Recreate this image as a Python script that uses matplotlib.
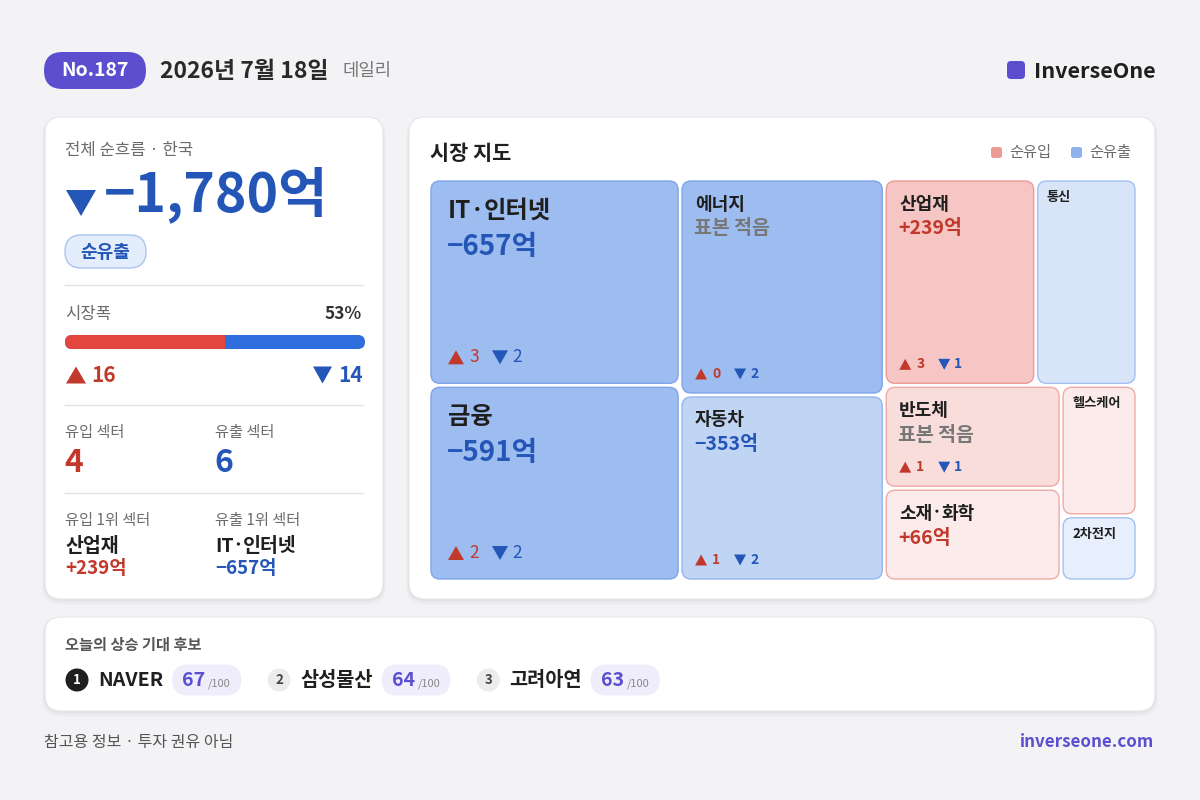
import numpy as np
import matplotlib
matplotlib.use("Agg")
import matplotlib.pyplot as plt
from matplotlib.patches import FancyBboxPatch, Polygon, Circle

plt.rcParams['font.family'] = ['Noto Sans CJK KR', 'DejaVu Sans']

# ------------------------------------------------------------------
# data
# ------------------------------------------------------------------
ISSUE_NO = 187
DATE_TEXT = "2026년 7월 18일"
NET_FLOW = -1780          # 억
UP_COUNT = 16
DOWN_COUNT = 14

SECTORS = ["IT·인터넷", "금융", "에너지", "자동차", "산업재", "통신", "반도체", "소재·화학", "헬스케어", "2차전지"]
SECTOR_FLOW = [-657, -591, -476, -353, 239, -107, 81, 66, 24, -6]
SECTOR_UP = [3, 2, 0, 1, 3, None, 1, None, None, None]
SECTOR_DOWN = [2, 2, 2, 2, 1, None, 1, None, None, None]

PICKS = ["NAVER", "삼성물산", "고려아연"]
PICK_SCORES = [67, 64, 63]

# colours
BG = "#f3f3f6"
PURPLE = "#5b4fcf"
RED = "#c0392b"
BLUE = "#2456b8"
GRAY = "#6b6b6b"
DARK = "#1f1f1f"
BLUE_TIERS = [("#9dbcf0", "#7ea4ea"), ("#c0d4f4", "#95b6ee"), ("#d8e5f9", "#a3c0f1"), ("#e7effc", "#a3c0f1")]
RED_TIERS = [("#f6c6c4", "#ee9a95"), ("#f9dddb", "#f0aaa6"), ("#fbebeb", "#f0aaa6"), ("#fbebeb", "#f0aaa6")]

DY = 2  # CJK glyphs sit a bit high with va="center"


def fmt_eok(v):
    sign = "+" if v > 0 else "−"
    return f"{sign}{abs(v):,}억"


def T(ax, x, y, s, **kw):
    kw.setdefault("va", "center")
    kw.setdefault("ha", "left")
    kw.setdefault("zorder", 3)
    return ax.text(x, y + DY, s, **kw)


def rbox(ax, x0, y0, x1, y1, r, fc, ec="none", lw=1.0, z=1, alpha=1.0):
    p = FancyBboxPatch((x0, y0), x1 - x0, y1 - y0,
                       boxstyle=f"round,pad=0,rounding_size={r}",
                       fc=fc, ec=ec, lw=lw, zorder=z, alpha=alpha)
    ax.add_patch(p)
    return p


def card(ax, x0, y0, x1, y1, r=16):
    for k, a in [(6, 0.015), (4, 0.02), (2, 0.03)]:
        rbox(ax, x0 - k / 2, y0 - k / 4 + 2, x1 + k / 2, y1 + k, r + k / 2, "#000000", z=0.5, alpha=a)
    rbox(ax, x0, y0, x1, y1, r, "white", ec="#e6e6ec", lw=0.8, z=1)


def tri(ax, x, y, w, h, up, color, z=5):
    # x = left edge, y = vertical centre
    if up:
        pts = [(x, y + h / 2), (x + w, y + h / 2), (x + w / 2, y - h / 2)]
    else:
        pts = [(x, y - h / 2), (x + w, y - h / 2), (x + w / 2, y + h / 2)]
    ax.add_patch(Polygon(pts, closed=True, fc=color, ec="none", zorder=z))


def squarify(weights, x, y, w, h):
    """simple squarified treemap, weights sorted descending"""
    total = float(sum(weights))
    areas = [wt * w * h / total for wt in weights]
    rects = []
    i = 0

    def worst(row, short):
        s = sum(row)
        return max(max(short ** 2 * r / s ** 2, s ** 2 / (short ** 2 * r)) for r in row)

    while i < len(areas):
        short = min(w, h)
        row = [areas[i]]
        j = i + 1
        while j < len(areas) and worst(row + [areas[j]], short) <= worst(row, short):
            row.append(areas[j])
            j += 1
        s = sum(row)
        if w >= h:
            cw = s / h
            yy = y
            for a in row:
                rh = a / cw
                rects.append((x, yy, cw, rh))
                yy += rh
            x += cw
            w -= cw
        else:
            rh = s / w
            xx = x
            for a in row:
                cw = a / rh
                rects.append((xx, y, cw, rh))
                xx += cw
            y += rh
            h -= rh
        i = j
    return rects


# ------------------------------------------------------------------
# figure in pixel coordinates
# ------------------------------------------------------------------
fig = plt.figure(figsize=(12, 8), dpi=100)
fig.patch.set_facecolor(BG)
ax = fig.add_axes([0, 0, 1, 1])
ax.set_xlim(0, 1200)
ax.set_ylim(800, 0)
ax.set_facecolor(BG)
ax.axis("off")
renderer = fig.canvas.get_renderer()
inv = ax.transData.inverted()


def text_right(t):
    bb = t.get_window_extent(renderer=renderer)
    return inv.transform((bb.x1, bb.y0))[0]


def name_text(ax, x, y, name, fontsize, color=DARK, **kw):
    # the CJK font gives "·" a full-width cell, so draw the dot as a small mark
    em = fontsize * 100 / 72
    parts = name.split("·")
    cur = x
    for n, part in enumerate(parts):
        if n > 0:
            r = em * 0.085
            cur += em * 0.16
            ax.add_patch(Circle((cur + r, y), r, fc=color, ec="none", zorder=3))
            cur += 2 * r + em * 0.16
        t = T(ax, cur, y, part, fontsize=fontsize, color=color, **kw)
        cur = text_right(t)


# header
rbox(ax, 44, 52, 146, 89, 18.5, PURPLE, z=2)
T(ax, 95, 69, f"No.{ISSUE_NO}", color="white", fontsize=14, fontweight="bold", ha="center")
T(ax, 160, 70, DATE_TEXT, color="#2a2a2a", fontsize=16.5, fontweight="bold")
T(ax, 343, 69, "데일리", color="#777777", fontsize=12.8)
rbox(ax, 1007, 61, 1025, 79, 4, PURPLE, z=2)
T(ax, 1034, 70, "InverseOne", color=DARK, fontsize=15.5, fontweight="bold")

# ------------------------------------------------------------------
# left card: net flow summary
# ------------------------------------------------------------------
card(ax, 45, 117, 383, 599)
T(ax, 65, 149, "전체 순흐름 · 한국", color=GRAY, fontsize=12)
tri(ax, 66, 203, 30, 26, up=NET_FLOW > 0, color=RED if NET_FLOW > 0 else BLUE)
T(ax, 104, 193, fmt_eok(NET_FLOW), color=BLUE if NET_FLOW < 0 else RED, fontsize=38.5, fontweight="bold")
rbox(ax, 65, 235, 146, 268, 16.5, "#e3edfc", ec="#a9c4f0", lw=1.0, z=2)
T(ax, 105.5, 250, "순유출" if NET_FLOW < 0 else "순유입", color=BLUE, fontsize=13, fontweight="bold", ha="center")

for yy in [285, 405, 493]:
    ax.plot([65, 363], [yy, yy], color="#e4e4e8", lw=1.0, zorder=3)

breadth = UP_COUNT / (UP_COUNT + DOWN_COUNT)
T(ax, 65, 312, "시장폭", color=GRAY, fontsize=12)
T(ax, 362, 312, f"{breadth * 100:.0f}%", color="#333333", fontsize=12.5, fontweight="bold", ha="right")
bx0, bx1, by0, by1 = 65, 365, 335, 349
split = bx0 + (bx1 - bx0) * breadth
rbox(ax, bx0, by0, bx1, by1, 7, "#2f6fdd", z=3)
rbox(ax, bx0, by0, split + 8, by1, 7, "#e2463f", z=3)
ax.add_patch(plt.Rectangle((split, by0), 10, by1 - by0, fc="#2f6fdd", ec="none", zorder=3.5))

tri(ax, 66, 375, 20, 17, up=True, color=RED)
T(ax, 91, 374, f"{UP_COUNT}", color=RED, fontsize=15, fontweight="bold")
tri(ax, 313, 375, 19, 17, up=False, color=BLUE)
T(ax, 363, 374, f"{DOWN_COUNT}", color=BLUE, fontsize=15, fontweight="bold", ha="right")

n_in = sum(1 for v in SECTOR_FLOW if v > 0)
n_out = sum(1 for v in SECTOR_FLOW if v < 0)
T(ax, 65, 430, "유입 섹터", color=GRAY, fontsize=11)
T(ax, 215, 430, "유출 섹터", color=GRAY, fontsize=11)
T(ax, 64, 461, f"{n_in}", color=RED, fontsize=23, fontweight="bold")
T(ax, 214, 461, f"{n_out}", color=BLUE, fontsize=23, fontweight="bold")

top_in = int(np.argmax(SECTOR_FLOW))
top_out = int(np.argmin(SECTOR_FLOW))
T(ax, 65, 518, "유입 1위 섹터", color=GRAY, fontsize=11)
T(ax, 215, 518, "유출 1위 섹터", color=GRAY, fontsize=11)
name_text(ax, 65, 544, SECTORS[top_in], 14, fontweight="bold")
name_text(ax, 215, 544, SECTORS[top_out], 14, fontweight="bold")
T(ax, 65, 567, fmt_eok(SECTOR_FLOW[top_in]), color=RED, fontsize=13.5, fontweight="bold")
T(ax, 215, 567, fmt_eok(SECTOR_FLOW[top_out]), color=BLUE, fontsize=13.5, fontweight="bold")

# ------------------------------------------------------------------
# right card: treemap
# ------------------------------------------------------------------
card(ax, 409, 117, 1155, 599)
T(ax, 430, 151, "시장 지도", color=DARK, fontsize=15, fontweight="bold")
rbox(ax, 991, 147, 1002, 158, 2.5, "#ee9a95", z=3)
T(ax, 1009, 151, "순유입", color=GRAY, fontsize=11)
rbox(ax, 1071, 147, 1082, 158, 2.5, "#8fb2ee", z=3)
T(ax, 1089, 151, "순유출", color=GRAY, fontsize=11)

weights = np.sqrt(np.abs(SECTOR_FLOW))
rects = squarify(list(weights), 429, 179, 708, 402)
max_out = max(-v for v in SECTOR_FLOW if v < 0)
max_in = max(v for v in SECTOR_FLOW if v > 0)
gap = 2.0
for name, v, up, dn, (rx, ry, rw, rh) in zip(SECTORS, SECTOR_FLOW, SECTOR_UP, SECTOR_DOWN, rects):
    x0, y0, x1, y1 = rx + gap, ry + gap, rx + rw - gap, ry + rh - gap
    w, h = x1 - x0, y1 - y0
    ratio = abs(v) / (max_in if v > 0 else max_out)
    tier = 0 if ratio >= 0.7 else 1 if ratio >= 0.3 else 2 if ratio >= 0.1 else 3
    fc, ec = (RED_TIERS if v > 0 else BLUE_TIERS)[tier]
    rbox(ax, x0, y0, x1, y1, 9, fc, ec=ec, lw=1.0, z=2)
    vcol = RED if v > 0 else BLUE
    low_sample = up is not None and (up + dn) <= 2
    val_txt = "표본 적음" if low_sample else fmt_eok(v)
    if low_sample:
        vcol = "#777777"
    if w >= 220:
        name_text(ax, x0 + 17, y0 + 28, name, 17.5, fontweight="bold")
        T(ax, x0 + 16, y0 + 64, val_txt, color=vcol, fontsize=20, fontweight="bold")
        if up is not None and h >= 100:
            cy = y1 - 26
            tri(ax, x0 + 17, cy, 16, 14, True, RED)
            T(ax, x0 + 38, cy - 2, f"{up}", color=RED, fontsize=12.5)
            tri(ax, x0 + 61, cy, 16, 14, False, BLUE)
            T(ax, x0 + 81, cy - 2, f"{dn}", color=BLUE, fontsize=12.5)
    elif w >= 120:
        name_text(ax, x0 + 13, y0 + 21, name, 13, fontweight="bold")
        T(ax, x0 + 12, y0 + 46, val_txt, color=vcol, fontsize=14, fontweight="bold")
        if up is not None and h >= 95:
            cy = y1 - 19
            tri(ax, x0 + 13, cy, 12, 11, True, RED)
            T(ax, x0 + 30, cy - 2, f"{up}", color=RED, fontsize=10, fontweight="bold")
            tri(ax, x0 + 52, cy, 12, 11, False, BLUE)
            T(ax, x0 + 68, cy - 2, f"{dn}", color=BLUE, fontsize=10, fontweight="bold")
    else:
        name_text(ax, x0 + 9, y0 + 14, name, 9.5, fontweight="bold")

# ------------------------------------------------------------------
# bottom card: picks
# ------------------------------------------------------------------
card(ax, 45, 617, 1155, 711)
T(ax, 65, 643, "오늘의 상승 기대 후보", color="#555555", fontsize=11, fontweight="bold")

cx = 77
cy = 680
for k, (name, score) in enumerate(zip(PICKS, PICK_SCORES)):
    first = k == 0
    ax.add_patch(Circle((cx, cy), 11.5, fc=DARK if first else "#ececec", ec="none", zorder=3))
    T(ax, cx, cy - 2, f"{k + 1}", color="white" if first else "#444444", fontsize=9.5,
      fontweight="bold", ha="center", zorder=4)
    t = T(ax, cx + 21, cy - 2, name, color=DARK, fontsize=14.2, fontweight="bold")
    px0 = text_right(t) + 9
    st = T(ax, px0 + 10, cy - 2, f"{score}", color=PURPLE, fontsize=14, fontweight="bold", zorder=4)
    sx = text_right(st) + 3
    dt = T(ax, sx, cy + 2, "/100", color="#888888", fontsize=8, zorder=4)
    px1 = text_right(dt) + 10
    rbox(ax, px0, cy - 15.5, px1, cy + 15.5, 15.5, "#efedfb", z=2)
    cx = px1 + 38

# footer
T(ax, 44, 740, "참고용 정보 · 투자 권유 아님", color="#555555", fontsize=11.5)
T(ax, 1154, 740, "inverseone.com", color=PURPLE, fontsize=12.2, fontweight="bold", ha="right")

fig.savefig("out.png", dpi=100, facecolor=BG)
